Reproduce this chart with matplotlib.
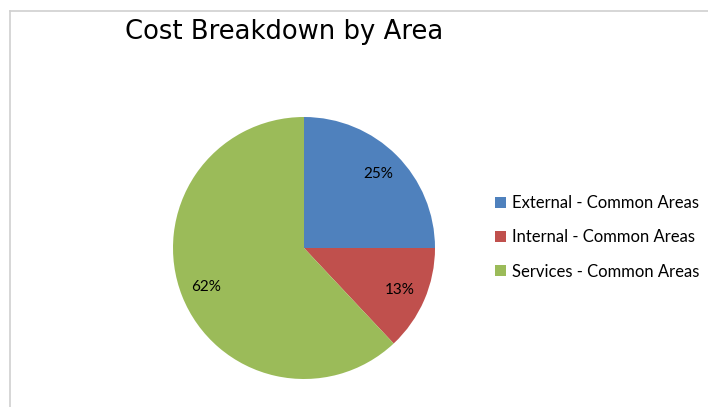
import matplotlib.pyplot as plt
from matplotlib.lines import Line2D

labels = ['External - Common Areas', 'Internal - Common Areas', 'Services - Common Areas']
shares = [25, 13, 62]
colors = ['#4F81BD', '#C0504D', '#9BBB59']

W, H = 708, 407
fig = plt.figure(figsize=(W / 100, H / 100), dpi=100)

# pie area: center (304, 248) px, radius 131 px
cx, cy, r = 304, 248, 131
ax = fig.add_axes([(cx - r) / W, (H - cy - r) / H, 2 * r / W, 2 * r / H])
wedges, texts, autotexts = ax.pie(shares, colors=colors, startangle=90, counterclock=False,
                                  autopct='%1.0f%%', pctdistance=0.8,
                                  textprops={'fontsize': 11, 'family': 'Lato', 'color': 'black'})
ax.set_xlim(-1, 1)
ax.set_ylim(-1, 1)
ax.set_aspect('equal')

fig.text(284 / W, 1 - 32 / H, 'Cost Breakdown by Area', fontsize=18.6, family='DejaVu Sans',
         ha='center', va='center')

fig.legend(wedges, labels, loc='upper left', bbox_to_anchor=(495 / W, 1 - 195 / H),
           frameon=False, prop={'family': 'Lato', 'size': 12},
           handlelength=0.65, handleheight=0.65, handletextpad=0.4, labelspacing=1.1,
           borderpad=0, borderaxespad=0)

# chart border (top and left edges visible)
fig.add_artist(Line2D([10 / W, 1], [1 - 10.5 / H, 1 - 10.5 / H], color='#D0D0D0', lw=1.2))
fig.add_artist(Line2D([10 / W, 10 / W], [0, 1 - 10.5 / H], color='#D0D0D0', lw=1.2))

fig.savefig('out.png', dpi=100)
